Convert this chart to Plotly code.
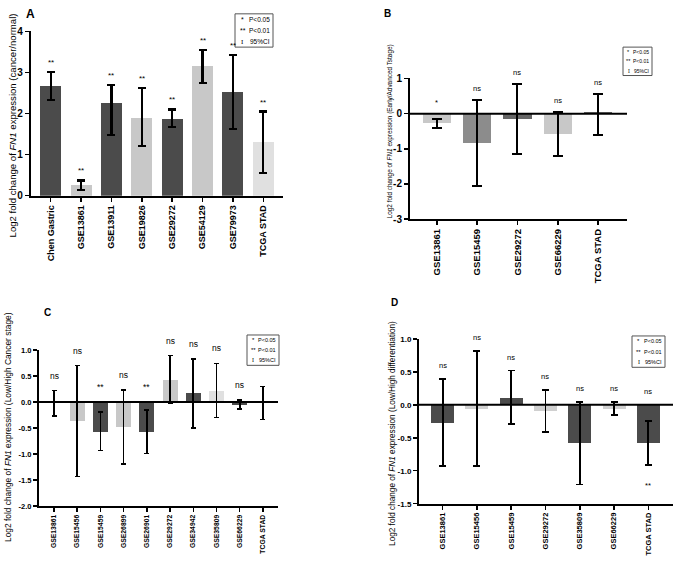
import plotly.graph_objects as go

W, H = 677, 575

# ---------------- data ----------------
a_cats = ["Chen Gastric", "GSE13861", "GSE13911", "GSE19826", "GSE29272", "GSE54129", "GSE79973", "TCGA STAD"]
a_vals = [2.68, 0.25, 2.25, 1.90, 1.87, 3.15, 2.52, 1.30]
a_lo = [2.33, 0.14, 1.48, 1.20, 1.68, 2.75, 1.62, 0.55]
a_hi = [3.02, 0.37, 2.70, 2.62, 2.10, 3.54, 3.43, 2.05]
a_sig = ["**", "**", "**", "**", "**", "**", "**", "**"]
a_col = ["#4b4b4b", "#c8c8c8", "#4b4b4b", "#c8c8c8", "#4b4b4b", "#c8c8c8", "#4b4b4b", "#e0e0e0"]

b_cats = ["GSE13861", "GSE15459", "GSE29272", "GSE66229", "TCGA STAD"]
b_vals = [-0.27, -0.83, -0.15, -0.58, 0.04]
b_lo = [-0.42, -2.07, -1.15, -1.21, -0.60]
b_hi = [-0.14, 0.38, 0.85, 0.05, 0.57]
b_sig = ["*", "ns", "ns", "ns", "ns"]
b_col = ["#c8c8c8", "#8c8c8c", "#666666", "#c8c8c8", "#666666"]

c_cats = ["GSE13861", "GSE15456", "GSE15459", "GSE26899", "GSE26901", "GSE29272", "GSE34942", "GSE35809", "GSE66229", "TCGA STAD"]
c_vals = [0.02, -0.37, -0.57, -0.48, -0.57, 0.42, 0.17, 0.21, -0.05, 0.01]
c_lo = [-0.27, -1.43, -0.93, -1.19, -0.99, -0.03, -0.50, -0.30, -0.14, -0.34]
c_hi = [0.22, 0.70, -0.19, 0.23, -0.15, 0.89, 0.83, 0.74, 0.04, 0.30]
c_sig = ["ns", "ns", "**", "ns", "**", "ns", "ns", "ns", "ns", ""]
c_col = ["#4b4b4b", "#c8c8c8", "#4b4b4b", "#c8c8c8", "#4b4b4b", "#c8c8c8", "#4b4b4b", "#e0e0e0", "#4b4b4b", "#e0e0e0"]

d_cats = ["GSE13861", "GSE15456", "GSE15459", "GSE29272", "GSE35809", "GSE66229", "TCGA STAD"]
d_vals = [-0.27, -0.06, 0.10, -0.10, -0.58, -0.06, -0.58]
d_lo = [-0.93, -0.93, -0.29, -0.41, -1.21, -0.16, -0.91]
d_hi = [0.39, 0.82, 0.52, 0.22, 0.04, 0.04, -0.25]
d_sig = ["ns", "ns", "ns", "ns", "ns", "ns", "ns"]
d_col = ["#4b4b4b", "#d0d0d0", "#4b4b4b", "#d0d0d0", "#4b4b4b", "#d0d0d0", "#4b4b4b"]
d_extra_sig = {"TCGA STAD": "**"}

titles = [
    "Log2 fold change of <i>FN1</i> expression (cancer/normal)",
    "Log2 fold change of <i>FN1</i> expression (Early/Advanced Tstage)",
    "Log2 fold change of <i>FN1</i> expression (Low/High Cancer stage)",
    "Log2 fold change of <i>FN1</i> expression (Low/High differentiation)",
]
panel_letters = ["A", "B", "C", "D"]
legend_syms = ["*", "**", "I"]
legend_texts = ["P<0.05", "P<0.01", "95%CI"]

FONT = "Liberation Sans, Arial, sans-serif"
SERIF = "Liberation Serif, Times New Roman, serif"

def px_x(p):
    return p / W

def px_y(p):
    return 1 - p / H

panels = [
    dict(cats=a_cats, vals=a_vals, lo=a_lo, hi=a_hi, sig=a_sig, col=a_col,
         xl=30.7, xr=283, yt=26, yb=193.7, xrange=[-0.66, 7.65], yrange=[0, 4],
         tickvals=[0, 1, 2, 3, 4], ticktext=["0", "1", "2", "3", "4"],
         bw=0.69, cap=4, tf=9, yf=10, sf=8, thick=2.2, zero=False,
         title_c=(12, 122), title_fs=9.6, letter=(30, 8), letter_fs=12,
         leg=(235, 8, 273, 42), leg_fs=6.5, sig_shift=3),
    dict(cats=b_cats, vals=b_vals, lo=b_lo, hi=b_hi, sig=b_sig, col=b_col,
         xl=410, xr=627, yt=74, yb=217.7, xrange=[-0.67, 4.72], yrange=[-3, 1],
         tickvals=[-3, -2, -1, 0, 1], ticktext=["-3", "-2", "-1", "0", "1"],
         bw=0.7, cap=5, tf=9.5, yf=10, sf=7.5, thick=2, zero=True,
         title_c=(390, 128), title_fs=6.4, letter=(387, 8), letter_fs=10,
         leg=(623, 42, 652, 71), leg_fs=5, sig_shift=5),
    dict(cats=c_cats, vals=c_vals, lo=c_lo, hi=c_hi, sig=c_sig, col=c_col,
         xl=39, xr=278, yt=351.3, yb=510.7, xrange=[-0.646, 9.65], yrange=[-2, 1],
         tickvals=[-2, -1.5, -1, -0.5, 0, 0.5, 1], ticktext=["-2.0", "-1.5", "-1.0", "-0.5", "0.0", "0.5", "1.0"],
         bw=0.65, cap=2.5, tf=6.8, yf=7.5, sf=8.5, thick=1.6, zero=True,
         title_c=(8, 430), title_fs=8.4, letter=(47, 313), letter_fs=10,
         leg=(247, 336, 279, 367), leg_fs=5.5, sig_shift=8),
    dict(cats=d_cats, vals=d_vals, lo=d_lo, hi=d_hi, sig=d_sig, col=d_col,
         xl=419, xr=673, yt=340, yb=508.3, xrange=[-0.69, 6.72], yrange=[-1.5, 1],
         tickvals=[-1.5, -1, -0.5, 0, 0.5, 1], ticktext=["-1.5", "-1.0", "-0.5", "0.0", "0.5", "1.0"],
         bw=0.67, cap=3.5, tf=7.5, yf=8, sf=7.5, thick=1.8, zero=True,
         title_c=(393, 437), title_fs=8.2, letter=(394, 303), letter_fs=10,
         leg=(632, 337, 665, 369), leg_fs=5.5, sig_shift=7),
]

fig = go.Figure()
annotations = []
shapes = []
layout_axes = {}

for i, p in enumerate(panels):
    n = i + 1
    xa = "x" if n == 1 else f"x{n}"
    ya = "y" if n == 1 else f"y{n}"
    xkey = "xaxis" if n == 1 else f"xaxis{n}"
    ykey = "yaxis" if n == 1 else f"yaxis{n}"
    plus = [h - v for h, v in zip(p["hi"], p["vals"])]
    minus = [v - l for v, l in zip(p["vals"], p["lo"])]
    fig.add_trace(go.Bar(
        x=p["cats"], y=p["vals"], width=p["bw"],
        marker=dict(color=p["col"], line=dict(width=0)),
        error_y=dict(type="data", symmetric=False, array=plus, arrayminus=minus,
                     color="black", thickness=p["thick"], width=p["cap"]),
        xaxis=xa, yaxis=ya, showlegend=False, hoverinfo="skip",
    ))
    layout_axes[xkey] = dict(
        domain=[px_x(p["xl"]), px_x(p["xr"])], anchor=ya, type="category",
        range=p["xrange"], showline=True, linecolor="black", linewidth=2,
        ticks="outside", ticklen=4, tickwidth=1.5, tickcolor="black",
        tickangle=-90, showgrid=False, zeroline=False, layer="above traces",
        tickfont=dict(family=FONT, size=p["tf"], color="black", weight="bold"),
    )
    layout_axes[ykey] = dict(
        domain=[px_y(p["yb"]), px_y(p["yt"])], anchor=xa,
        range=p["yrange"], showline=True, linecolor="black", linewidth=2,
        ticks="outside", ticklen=4, tickwidth=1.5, tickcolor="black",
        tickvals=p["tickvals"], ticktext=p["ticktext"], showgrid=False,
        zeroline=False, layer="above traces",
        tickfont=dict(family=FONT, size=p["yf"], color="black", weight="bold"),
    )
    if p["zero"]:
        shapes.append(dict(type="line", xref=f"{xa} domain", yref=ya, x0=0, x1=1, y0=0, y1=0,
                           line=dict(color="black", width=2), layer="above"))
    for c, h, s in zip(p["cats"], p["hi"], p["sig"]):
        if s:
            annotations.append(dict(x=c, y=max(h, 0), xref=xa, yref=ya, text=s, showarrow=False,
                                    yanchor="bottom", yshift=p["sig_shift"],
                                    font=dict(family=FONT, size=p["sf"], color="black")))
    tx, ty = p["title_c"]
    annotations.append(dict(x=px_x(tx), y=px_y(ty), xref="paper", yref="paper",
                            text=titles[i], textangle=-90, showarrow=False,
                            xanchor="center", yanchor="middle",
                            font=dict(family=FONT, size=p["title_fs"], color="black")))
    lx, ly = p["letter"]
    annotations.append(dict(x=px_x(lx), y=px_y(ly), xref="paper", yref="paper",
                            text=f"<b>{panel_letters[i]}</b>", showarrow=False,
                            xanchor="center", yanchor="middle",
                            font=dict(family=FONT, size=p["letter_fs"], color="black")))
    x0, y0, x1, y1 = p["leg"]
    bw_px = x1 - x0
    shapes.append(dict(type="rect", xref="paper", yref="paper",
                       x0=px_x(x0), x1=px_x(x1), y0=px_y(y1), y1=px_y(y0),
                       line=dict(color="#555555", width=1)))
    for k in range(3):
        yy = y0 + (y1 - y0) * (k + 0.5) / 3
        sym_font = SERIF if legend_syms[k] == "I" else FONT
        annotations.append(dict(x=px_x(x0 + bw_px * 0.2), y=px_y(yy), xref="paper", yref="paper",
                                text=legend_syms[k], showarrow=False,
                                xanchor="center", yanchor="middle",
                                font=dict(family=sym_font, size=p["leg_fs"] + 0.5, color="black")))
        annotations.append(dict(x=px_x(x1 - 1), y=px_y(yy), xref="paper", yref="paper",
                                text=legend_texts[k], showarrow=False,
                                xanchor="right", yanchor="middle",
                                font=dict(family=FONT, size=p["leg_fs"], color="black")))

for c, s in d_extra_sig.items():
    idx = d_cats.index(c)
    annotations.append(dict(x=c, y=d_lo[idx], xref="x4", yref="y4", text=s, showarrow=False,
                            yanchor="top", yshift=-14,
                            font=dict(family=FONT, size=7.5, color="black")))

fig.update_layout(
    width=W, height=H, margin=dict(l=0, r=0, t=0, b=0),
    paper_bgcolor="white", plot_bgcolor="white",
    annotations=annotations, shapes=shapes, bargap=0, hovermode=False,
    **layout_axes,
)

fig.write_html("out.html", config={"displayModeBar": False, "staticPlot": True},
               post_script="document.body.style.margin='0';document.body.style.padding='0';")
